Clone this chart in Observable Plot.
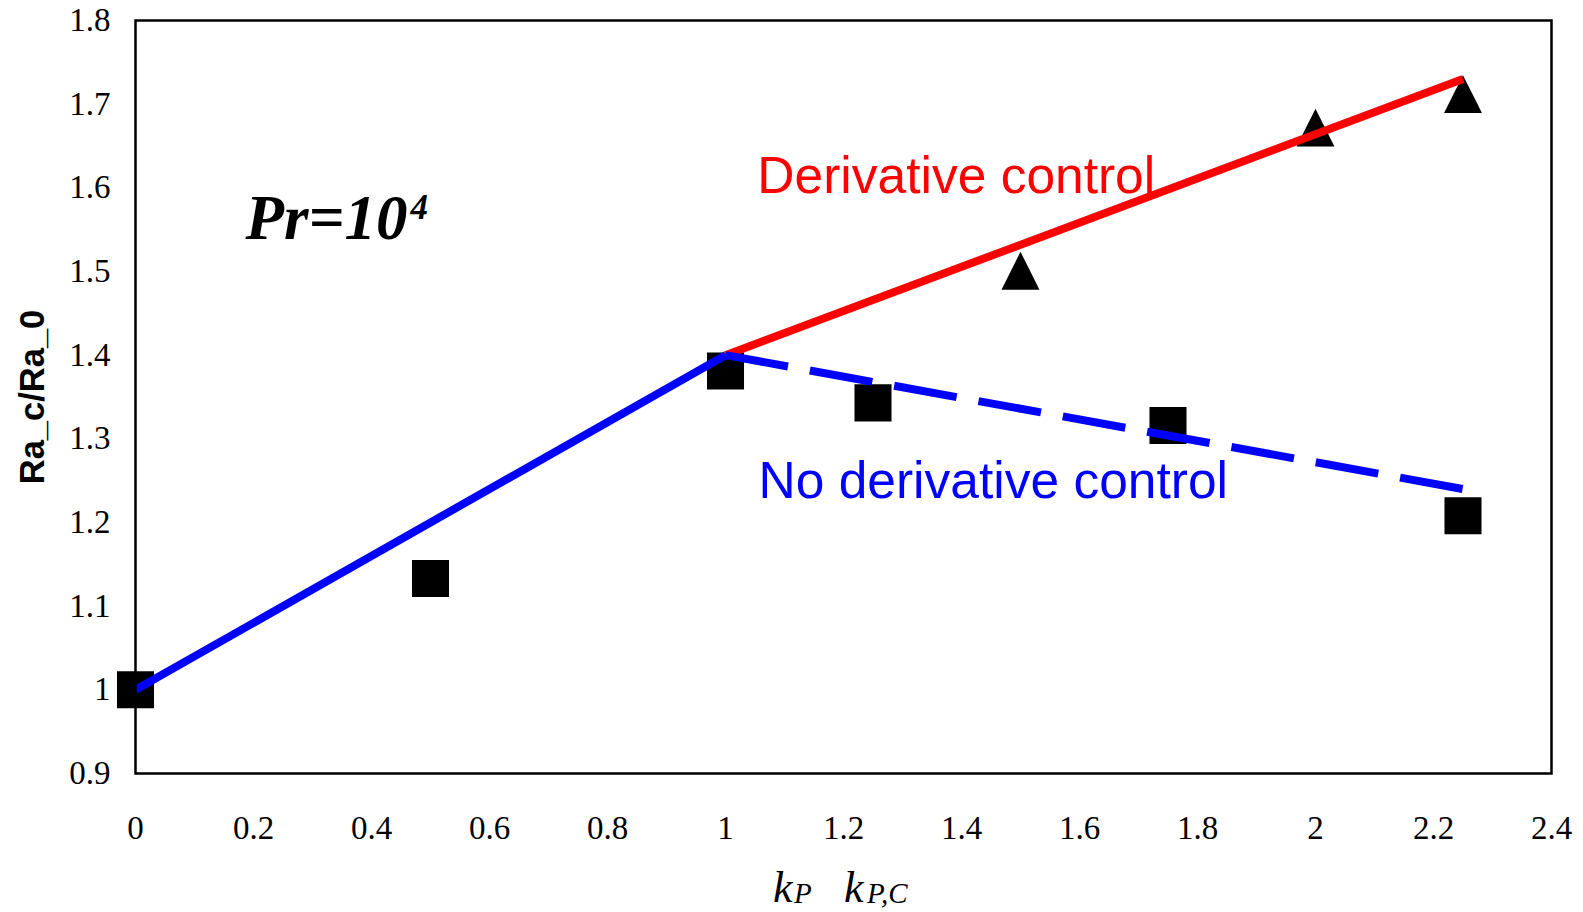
<!DOCTYPE html>
<html>
<head>
<meta charset="utf-8">
<script src="https://cdn.jsdelivr.net/npm/d3@7"></script>
<script src="https://cdn.jsdelivr.net/npm/@observablehq/plot@0.6"></script>
<style>
  html, body { margin: 0; padding: 0; background: #fff; }
</style>
</head>
<body>
<div id="chart"></div>
<script>
// ---- data ----
const squareK = [0, 0.5, 1, 1.25, 1.75, 2.25];
const squareRa = [1.0, 1.133, 1.381, 1.343, 1.316, 1.208];
const triangleK = [1.5, 2, 2.25];
const triangleRa = [1.501, 1.672, 1.712];

const baseLineK = [0, 1];
const baseLineRa = [1.0, 1.4];
const derivLineK = [1, 2.25];
const derivLineRa = [1.4, 1.73];
const noDerivLineK = [1, 2.25];
const noDerivLineRa = [1.4, 1.24];

const xTicks = [0, 0.2, 0.4, 0.6, 0.8, 1, 1.2, 1.4, 1.6, 1.8, 2, 2.2, 2.4];
const xTickLabels = ["0", "0.2", "0.4", "0.6", "0.8", "1", "1.2", "1.4", "1.6", "1.8", "2", "2.2", "2.4"];
const yTicks = [0.9, 1, 1.1, 1.2, 1.3, 1.4, 1.5, 1.6, 1.7, 1.8];
const yTickLabels = ["0.9", "1", "1.1", "1.2", "1.3", "1.4", "1.5", "1.6", "1.7", "1.8"];

const annotationText = ["Derivative control", "No derivative control"];
const annotationK = [1.054, 1.056];
const annotationRa = [1.5936, 1.2296];
const annotationColor = ["#ff0000", "#0000ff"];

const yLabel = "Ra_c/Ra_0";

// ---- build tables ----
const squares = squareK.map((k, i) => ({k, ra: squareRa[i]}));
const triangles = triangleK.map((k, i) => ({k, ra: triangleRa[i]}));
const toPts = (ks, ras) => ks.map((k, i) => ({k, ra: ras[i]}));
const annotations = annotationText.map((t, i) => ({text: t, k: annotationK[i], ra: annotationRa[i], color: annotationColor[i]}));

const triangleSymbol = {
  draw(ctx, size) {
    const s = Math.sqrt(size);
    ctx.moveTo(0, -s / 2);
    ctx.lineTo(s / 2, s / 2);
    ctx.lineTo(-s / 2, s / 2);
    ctx.closePath();
  }
};

const serif = "'Liberation Serif', 'Times New Roman', serif";
const sans = "'Liberation Sans', Arial, sans-serif";

const chart = Plot.plot({
  width: 1583,
  height: 912,
  marginLeft: 135,
  marginRight: 32,
  marginTop: 20,
  marginBottom: 139,
  style: {fontFamily: serif, fontSize: "33px", background: "#fff", color: "#000"},
  x: {domain: [0, 2.4]},
  y: {domain: [0.9, 1.8]},
  marks: [
    Plot.axisX({ticks: xTicks, tickFormat: (d, i) => xTickLabels[i], tickSize: 0, tickPadding: 42, label: null, fontSize: 33}),
    Plot.axisY({ticks: yTicks, tickFormat: (d, i) => yTickLabels[i], tickSize: 0, tickPadding: 25, label: null, fontSize: 33}),
    Plot.dot(squares, {x: "k", y: "ra", symbol: "square", r: 20.9, fill: "#000", stroke: null}),
    Plot.dot(triangles, {x: "k", y: "ra", symbol: triangleSymbol, r: 21.4, fill: "#000", stroke: null}),
    Plot.line(toPts(baseLineK, baseLineRa), {x: "k", y: "ra", stroke: "#0000ff", strokeWidth: 8, strokeLinecap: "butt"}),
    Plot.line(toPts(derivLineK, derivLineRa), {x: "k", y: "ra", stroke: "#ff0000", strokeWidth: 8, strokeLinecap: "butt"}),
    Plot.line(toPts(noDerivLineK, noDerivLineRa), {x: "k", y: "ra", stroke: "#0000ff", strokeWidth: 8, strokeLinecap: "butt", strokeDasharray: "63.5,22.2"}),
    Plot.frame({stroke: "#000", strokeWidth: 2.5}),
    Plot.text(annotations, {x: "k", y: "ra", text: "text", fill: "color", textAnchor: "start", lineAnchor: "bottom", fontFamily: sans, fontSize: 51.5}),
    // Pr = 10^4 label
    Plot.text(["Pr=10"], {frameAnchor: "top-left", dx: 110, dy: 218, textAnchor: "start", lineAnchor: "bottom", fontFamily: serif, fontSize: 63, fontWeight: "bold", fontStyle: "italic"}),
    Plot.text(["4"], {frameAnchor: "top-left", dx: 275, dy: 198, textAnchor: "start", lineAnchor: "bottom", fontFamily: serif, fontSize: 35, fontWeight: "bold", fontStyle: "italic"}),
    // y-axis label
    Plot.text([yLabel], {frameAnchor: "left", dx: -103, rotate: -90, textAnchor: "middle", lineAnchor: "middle", fontFamily: sans, fontSize: 34.5, fontWeight: "bold"}),
    // x-axis label: k_P  k_P,C
    Plot.text(["k"], {frameAnchor: "bottom", dx: 772 - 842.5, dy: 128, textAnchor: "start", lineAnchor: "bottom", fontFamily: serif, fontSize: 44, fontStyle: "italic"}),
    Plot.text(["P"], {frameAnchor: "bottom", dx: 793 - 842.5, dy: 129, textAnchor: "start", lineAnchor: "bottom", fontFamily: serif, fontSize: 29, fontStyle: "italic"}),
    Plot.text(["k"], {frameAnchor: "bottom", dx: 843 - 842.5, dy: 128, textAnchor: "start", lineAnchor: "bottom", fontFamily: serif, fontSize: 44, fontStyle: "italic"}),
    Plot.text(["P,C"], {frameAnchor: "bottom", dx: 866 - 842.5, dy: 129, textAnchor: "start", lineAnchor: "bottom", fontFamily: serif, fontSize: 29, fontStyle: "italic"})
  ]
});
document.getElementById("chart").appendChild(chart);
</script>
</body>
</html>
